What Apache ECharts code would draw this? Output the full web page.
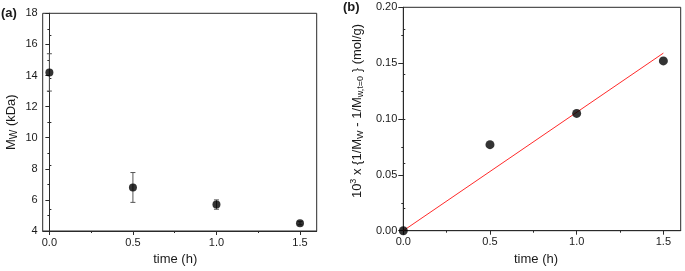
<!DOCTYPE html>
<html><head><meta charset="utf-8">
<script src="https://cdn.jsdelivr.net/npm/echarts@6/dist/echarts.min.js"></script>
<style>html,body{margin:0;padding:0;background:#fff}#c{width:685px;height:271px}</style>
</head><body><div id="c"></div>
<script>
// ---- data ----
var timesA = [0, 0.5, 1.0, 1.5];
var mwA = [14.2, 6.8, 5.7, 4.5];
var errA = [1.2, 0.96, 0.3, 0.1];
var timesB = [0, 0.5, 1.0, 1.5];
var valB = [0, 0.077, 0.105, 0.152];
var fitX = [0, 1.5];
var fitY = [0, 0.159];
var xMajorTicks = [0, 0.5, 1.0, 1.5];
var xMinorTicks = [0.25, 0.75, 1.25];

var FONT = "'Liberation Sans', Arial, sans-serif";
var AX = '#2a2a2a';
var TXT = '#1a1a1a';

function mainX(gi, min, padR) {
  return {
    gridIndex: gi, type: 'value', min: min, max: 1.6, position: 'bottom',
    axisLine: {show: true, lineStyle: {color: AX, width: 1}},
    axisTick: {show: true, length: 4, customValues: xMajorTicks, lineStyle: {color: AX}},
    axisLabel: {show: true, customValues: xMajorTicks, margin: 6, fontSize: 11, color: TXT, fontFamily: FONT,
      formatter: function (v) { return v.toFixed(1); }},
    splitLine: {show: false},
    name: 'time (h)', nameLocation: 'middle', nameGap: 22,
    nameTextStyle: {fontSize: 13, color: TXT, fontFamily: FONT, padding: [0, padR, 0, 0]}
  };
}
function minorX(gi, min) {
  return {
    gridIndex: gi, type: 'value', min: min, max: 1.6, position: 'bottom',
    axisLine: {show: false},
    axisTick: {show: true, length: 2, customValues: xMinorTicks, lineStyle: {color: AX}},
    axisLabel: {show: false}, splitLine: {show: false}
  };
}
function rightY(gi) {
  return {
    gridIndex: gi, type: 'value', min: 0, max: 10, interval: 2, position: 'right',
    axisLine: {show: true, lineStyle: {color: AX}},
    axisTick: {show: false},
    minorTick: {show: true, splitNumber: 2, length: 2, lineStyle: {color: AX}},
    axisLabel: {show: false}, splitLine: {show: false}, minorSplitLine: {show: false}
  };
}

var chart = echarts.init(document.getElementById('c'));
chart.setOption({
  animation: false,
  backgroundColor: '#fff',
  textStyle: {fontFamily: FONT},
  grid: [
    {left: 42.7, top: 13.3, width: 274, height: 219, show: true, borderColor: AX, borderWidth: 1},
    {left: 403.3, top: 7.3, width: 277.4, height: 223.4, show: true, borderColor: AX, borderWidth: 1}
  ],
  xAxis: [mainX(0, -0.04, 9), minorX(0, -0.04), mainX(1, 0, 12), minorX(1, 0)],
  yAxis: [
    {gridIndex: 0, type: 'value', min: 4, max: 18, interval: 2, position: 'left',
      axisLine: {show: true, lineStyle: {color: AX}},
      axisTick: {show: true, length: 4, lineStyle: {color: AX}},
      minorTick: {show: true, splitNumber: 2, length: 2, lineStyle: {color: AX}},
      axisLabel: {margin: 5, fontSize: 11, color: TXT, fontFamily: FONT},
      splitLine: {show: false},
      name: '{n|M}{sub|W}{n| (kDa)}', nameLocation: 'middle', nameRotate: 90, nameGap: 23,
      nameTextStyle: {fontSize: 13, color: TXT, fontFamily: FONT,
        rich: {n: {fontSize: 13, color: TXT, fontFamily: FONT, lineHeight: 16},
               sub: {fontSize: 10, color: TXT, fontFamily: FONT, verticalAlign: 'bottom'}}}
    },
    rightY(0),
    {gridIndex: 1, type: 'value', min: 0, max: 0.2, interval: 0.05, position: 'left',
      axisLine: {show: true, lineStyle: {color: AX}},
      axisTick: {show: true, length: 5, lineStyle: {color: AX}},
      minorTick: {show: true, splitNumber: 2, length: 2, lineStyle: {color: AX}},
      axisLabel: {margin: 6, fontSize: 11, color: TXT, fontFamily: FONT,
        formatter: function (v) { return v.toFixed(2); }},
      splitLine: {show: false},
      name: '10{sup|3} x {1/M{sub|W} - 1/M{sub|w,t=0} } (mol/g)',
      nameLocation: 'middle', nameRotate: 90, nameGap: 38,
      nameTextStyle: {fontSize: 13, color: TXT, fontFamily: FONT, lineHeight: 16, padding: [0, 0, 0, 16],
        rich: {sup: {fontSize: 9, color: TXT, fontFamily: FONT, verticalAlign: 'top'},
               sub: {fontSize: 9, color: TXT, fontFamily: FONT, verticalAlign: 'bottom'}}}
    },
    rightY(1)
  ],
  graphic: [
    {type: 'text', left: 1, top: 7, style: {text: '(a)', font: 'bold 13px ' + FONT, fill: TXT}},
    {type: 'text', left: 343, top: 1, style: {text: '(b)', font: 'bold 13px ' + FONT, fill: TXT}}
  ],
  series: [
    {type: 'custom', xAxisIndex: 0, yAxisIndex: 0, z: 2,
      data: timesA.map(function (t, i) { return [t, mwA[i] - errA[i], mwA[i] + errA[i]]; }),
      renderItem: function (params, api) {
        var lo = api.coord([api.value(0), api.value(1)]);
        var hi = api.coord([api.value(0), api.value(2)]);
        var w = 2.5;
        var st = {stroke: '#555', lineWidth: 1};
        return {type: 'group', children: [
          {type: 'line', shape: {x1: lo[0], y1: lo[1], x2: hi[0], y2: hi[1]}, style: st},
          {type: 'line', shape: {x1: lo[0] - w, y1: lo[1], x2: lo[0] + w, y2: lo[1]}, style: st},
          {type: 'line', shape: {x1: hi[0] - w, y1: hi[1], x2: hi[0] + w, y2: hi[1]}, style: st}
        ]};
      }
    },
    {type: 'scatter', xAxisIndex: 0, yAxisIndex: 0, z: 3, symbol: 'circle', symbolSize: 8,
      itemStyle: {color: '#000'},
      data: timesA.map(function (t, i) { return [t, mwA[i]]; })},
    {type: 'line', xAxisIndex: 2, yAxisIndex: 2, z: 2, symbol: 'none', clip: true,
      lineStyle: {color: '#ff2a2a', width: 1},
      data: fitX.map(function (x, i) { return [x, fitY[i]]; })},
    {type: 'scatter', xAxisIndex: 2, yAxisIndex: 2, z: 3, symbol: 'circle', symbolSize: 9, clip: true,
      itemStyle: {color: '#000'},
      data: timesB.map(function (t, i) { return [t, valB[i]]; })}
  ]
});
</script></body></html>
